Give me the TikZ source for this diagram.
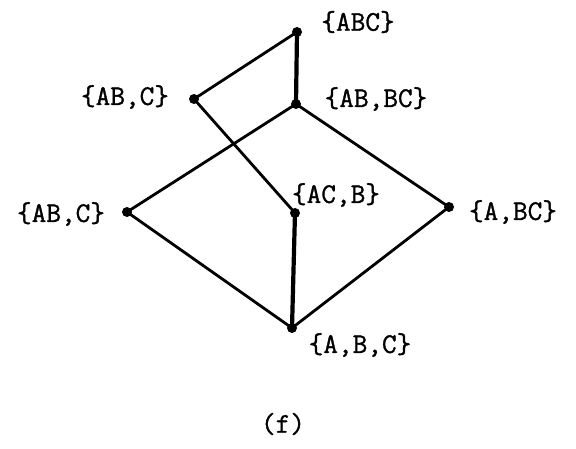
\documentclass[tikz,border=0pt]{standalone}
\usepackage{fontspec}
\newfontfamily\typew{Latin Modern Mono}[FakeBold=1.2]
\begin{document}
\begin{tikzpicture}[x=1pt,y=-1pt,
  dot/.style={circle,fill=black,inner sep=0pt,minimum size=10pt},
  lbl/.style={inner sep=0pt,font=\typew\fontsize{28.5}{32}\selectfont},
  edge/.style={line width=2.8pt},
  thick edge/.style={line width=4.2pt}]
\useasboundingbox (0,0) rectangle (576,449);
\node[dot] (abc)  at (297,32) {};
\node[dot] (abc1) at (194,99) {};
\node[dot] (abbc) at (296,104) {};
\node[dot] (abc2) at (127,212) {};
\node[dot] (acb)  at (295,213) {};
\node[dot] (abc3) at (449,207) {};
\node[dot] (abcs) at (292,328) {};
\node[lbl] (l1) at (358,22) {\{ABC\}};
\node[lbl] (l2) at (125,97) {\{AB,C\}};
\node[lbl] (l3) at (376,99) {\{AB,BC\}};
\node[lbl] (l4) at (61,214) {\{AB,C\}};
\node[lbl] (l5) at (336,195) {\{AC,B\}};
\node[lbl] (l6) at (513,212) {\{A,BC\}};
\node[lbl] (l7) at (360,345) {\{A,B,C\}};
\node[lbl] (l8) at (283,424) {(f)};
\draw[edge] (abc.center) -- (abc1.center);
\draw[thick edge] (abc.center) -- (abbc.center);
\draw[edge] (abc1.center) -- (acb.center);
\draw[edge] (abbc.center) -- (abc2.center);
\draw[edge] (abbc.center) -- (abc3.center);
\draw[edge] (abc2.center) -- (abcs.center);
\draw[edge] (abc3.center) -- (abcs.center);
\draw[thick edge] (acb.center) -- (abcs.center);
\end{tikzpicture}
\end{document}
